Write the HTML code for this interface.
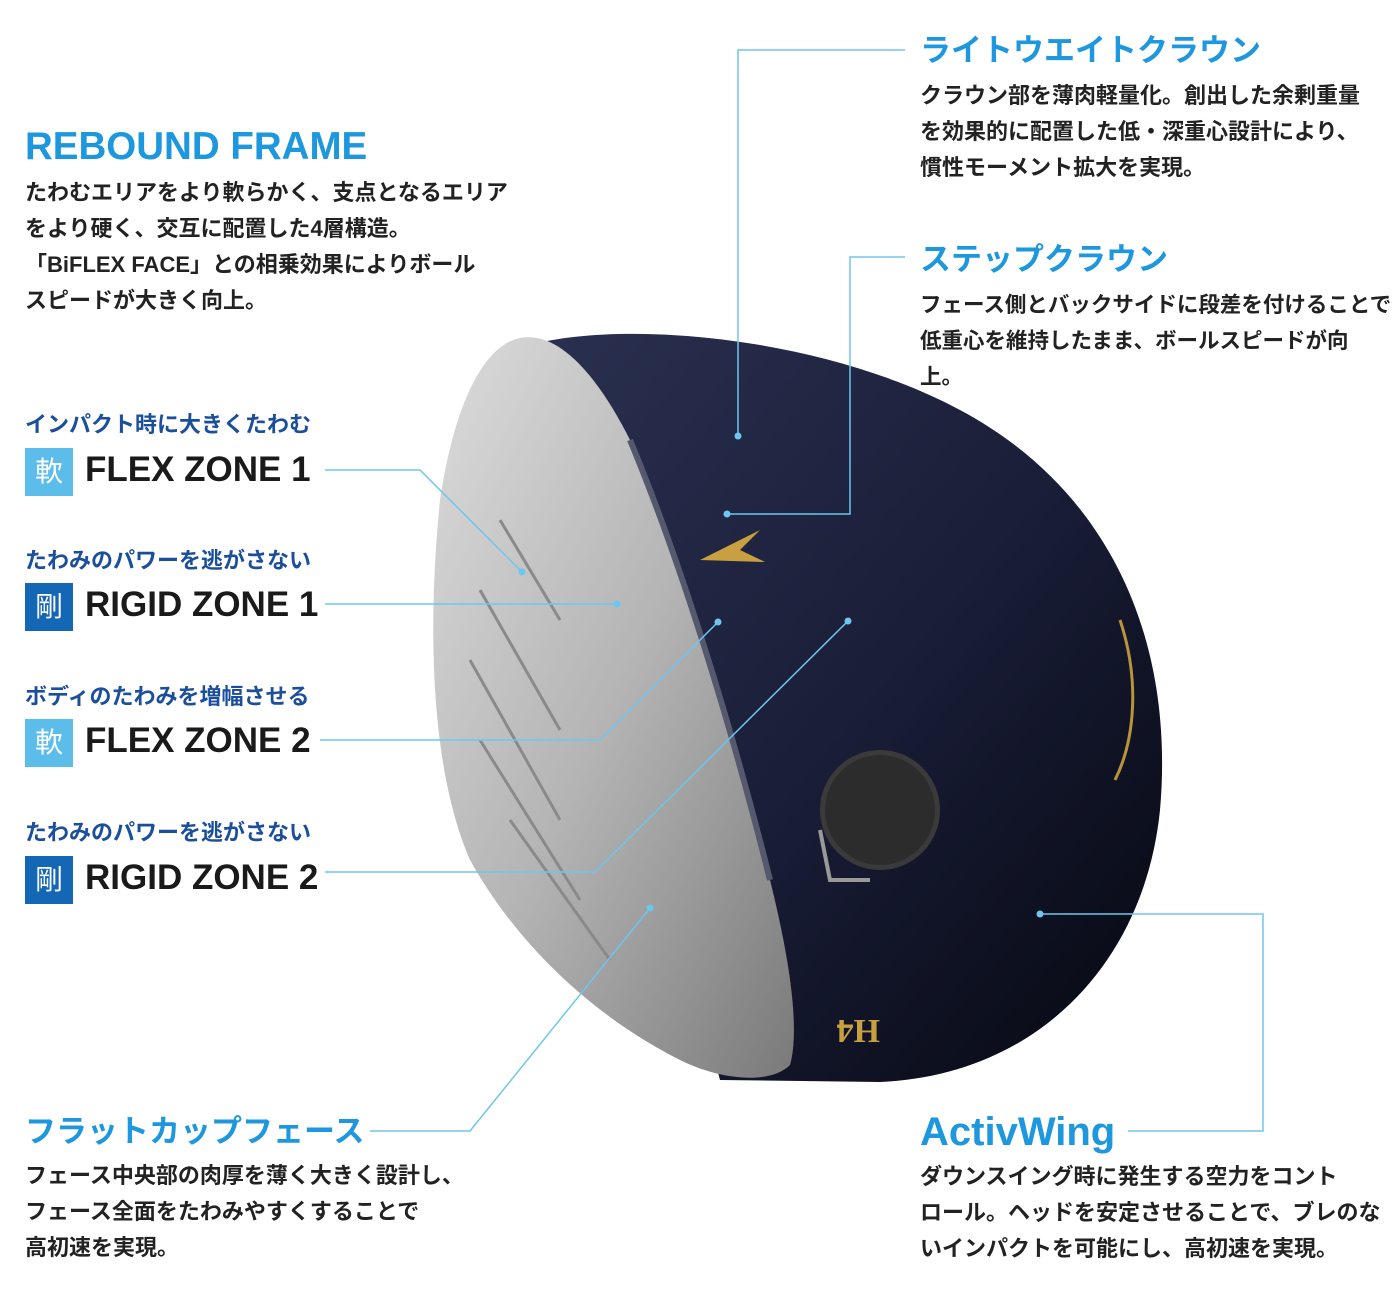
<!DOCTYPE html>
<html><head><meta charset="utf-8"><style>
*{margin:0;padding:0}
body{width:1400px;height:1302px;background:#fff;position:relative;overflow:hidden;font-family:"Liberation Sans","Noto Sans CJK JP",sans-serif;}
.t{position:absolute;white-space:nowrap}
.h{color:#1d97dd;font-weight:bold;font-size:31px}
.p{color:#222;font-size:22px;line-height:36px;font-weight:bold}
.s{color:#1b4f9c;font-size:22px;font-weight:bold}
.box{position:absolute;left:25px;width:48px;height:48px;color:#fff;font-size:28px;text-align:center;line-height:48px}
.soft{background:#5cbdea}.hard{background:#1467b4}
.z{position:absolute;left:85px;font-size:35px;font-weight:bold;color:#1a1a1a;line-height:48px}
svg{position:absolute;left:0;top:0}
</style></head><body>
<svg width="1400" height="1302">
<defs>
<linearGradient id="bd" x1="0" y1="0" x2="1" y2="1"><stop offset="0" stop-color="#2a3050"/><stop offset=".5" stop-color="#1a1e38"/><stop offset="1" stop-color="#05070f"/></linearGradient>
<linearGradient id="fc" x1="0" y1="0" x2="1" y2="1"><stop offset="0" stop-color="#dcdcdc"/><stop offset=".5" stop-color="#b4b4b4"/><stop offset="1" stop-color="#7a7a7a"/></linearGradient>
</defs>
<path d="M530,345 C620,320 820,335 960,410 C1110,490 1175,640 1160,810 C1145,960 1040,1075 880,1082 L720,1080 Z" fill="url(#bd)"/>
<path d="M520,338 C560,330 600,380 630,440 C680,560 730,720 770,880 C790,960 800,1030 790,1065 C770,1085 720,1080 680,1060 C600,1020 520,950 470,860 C435,780 425,650 440,500 C455,400 485,345 520,338 Z" fill="url(#fc)"/>
<path d="M630,440 C680,560 730,720 770,880" stroke="#55596e" stroke-width="6" fill="none"/>
<g stroke="#8a8a8a" stroke-width="3">
<line x1="500" y1="520" x2="560" y2="620"/><line x1="480" y1="590" x2="560" y2="730"/><line x1="470" y1="660" x2="560" y2="820"/><line x1="480" y1="740" x2="580" y2="900"/><line x1="510" y1="820" x2="610" y2="960"/>
</g>
<path d="M1120,620 C1140,680 1135,740 1115,780" stroke="#b8943a" stroke-width="3" fill="none"/>
<path d="M700,560 L760,530 L740,550 L765,562 Z" fill="#c8a040"/>
<circle cx="880" cy="810" r="60" fill="#3a3a3a"/><circle cx="880" cy="810" r="55" fill="#2c2c2c"/>
<path d="M820,830 L830,880 L870,880" stroke="#999" stroke-width="4" fill="none"/>
<text x="790" y="1050" fill="#c8a040" font-size="34" font-weight="bold" font-family="Liberation Serif" transform="rotate(180 835 1035)">H4</text>
<g stroke="#6ec6ee" stroke-width="1.5" fill="none">
<polyline points="325,470 420,470 522,572"/>
<polyline points="325,604 617,604"/>
<polyline points="320,740 600,740 718,622"/>
<polyline points="325,872 595,872 848,621"/>
<polyline points="370,1131 470,1131 650,908"/>
<polyline points="905,50 738,50 738,436"/>
<polyline points="905,257 850,257 850,514 727,514"/>
<polyline points="1128,1131 1263,1131 1263,914 1040,914"/>
</g>
<g fill="#6ec6ee"><circle cx="522" cy="572" r="3.5"/><circle cx="617" cy="604" r="3.5"/><circle cx="718" cy="622" r="3.5"/><circle cx="848" cy="621" r="3.5"/><circle cx="650" cy="908" r="3.5"/><circle cx="738" cy="436" r="3.5"/><circle cx="727" cy="514" r="3.5"/><circle cx="1040" cy="914" r="3.5"/></g>
</svg>
<div class="t h" style="left:25px;top:125px;font-size:38.5px">REBOUND FRAME</div>
<div class="t p" style="left:25px;top:175px">たわむエリアをより軟らかく、支点となるエリア<br>をより硬く、交互に配置した4層構造。<br>「BiFLEX FACE」との相乗効果によりボール<br>スピードが大きく向上。</div>
<div class="t s" style="left:25px;top:407px">インパクト時に大きくたわむ</div>
<div class="box soft" style="top:448px">軟</div><div class="t z" style="top:446px">FLEX ZONE 1</div>
<div class="t s" style="left:25px;top:543px">たわみのパワーを逃がさない</div>
<div class="box hard" style="top:583px">剛</div><div class="t z" style="top:581px">RIGID ZONE 1</div>
<div class="t s" style="left:25px;top:679px">ボディのたわみを増幅させる</div>
<div class="box soft" style="top:719px">軟</div><div class="t z" style="top:717px">FLEX ZONE 2</div>
<div class="t s" style="left:25px;top:815px">たわみのパワーを逃がさない</div>
<div class="box hard" style="top:856px">剛</div><div class="t z" style="top:854px">RIGID ZONE 2</div>
<div class="t h" style="left:25px;top:1106px">フラットカップフェース</div>
<div class="t p" style="left:25px;top:1158px">フェース中央部の肉厚を薄く大きく設計し、<br>フェース全面をたわみやすくすることで<br>高初速を実現。</div>
<div class="t h" style="left:920px;top:25px">ライトウエイトクラウン</div>
<div class="t p" style="left:920px;top:78px">クラウン部を薄肉軽量化。創出した余剰重量<br>を効果的に配置した低・深重心設計により、<br>慣性モーメント拡大を実現。</div>
<div class="t h" style="left:920px;top:234px">ステップクラウン</div>
<div class="t p" style="left:920px;top:287px;font-size:21.5px">フェース側とバックサイドに段差を付けることで<br>低重心を維持したまま、ボールスピードが向<br>上。</div>
<div class="t h" style="left:920px;top:1110px;font-size:40px">ActivWing</div>
<div class="t p" style="left:920px;top:1159px">ダウンスイング時に発生する空力をコント<br>ロール。ヘッドを安定させることで、ブレのな<br>いインパクトを可能にし、高初速を実現。</div>
</body></html>
